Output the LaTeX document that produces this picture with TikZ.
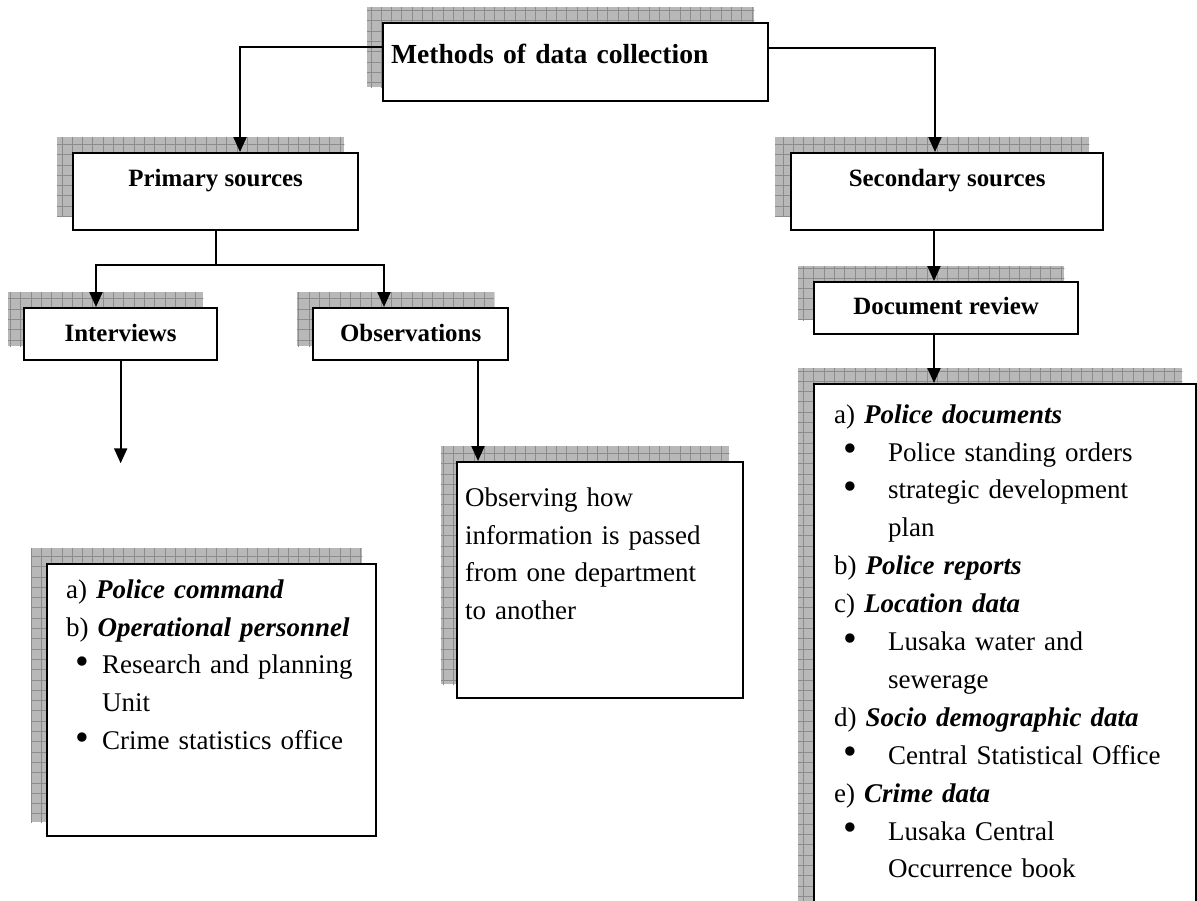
\documentclass[tikz,border=0pt]{standalone}
\usepackage{fontspec}
\usepackage{graphicx}
\setmainfont{Liberation Serif}
\usetikzlibrary{arrows.meta,backgrounds,calc}

% hatched drop shadow, offset up and to the left of a box
\newcommand\gridshadow[1]{%
  \begin{scope}[on background layer]
    \begin{scope}
      \clip ($(#1.north west)+(-15,-15)$) rectangle ($(#1.south east)+(-15,-15)$);
      \fill[shadowfill] ($(#1.north west)+(-15,-15)$) rectangle ($(#1.south east)+(-15,-15)$);
      \draw[shadowgrid] ($(#1.north west)+(-30,-30)$) grid ($(#1.south east)$);
    \end{scope}
  \end{scope}}

\tikzset{
  shadowfill/.style={fill=black!28},
  shadowgrid/.style={draw=black!45, line width=0.6pt, step=10.3pt},
  box/.style={draw, line width=2.3pt, fill=white, anchor=north west, inner ysep=0pt},
  head/.style={box, inner xsep=0pt, align=center, font=\fontsize{24.9}{30}\selectfont\bfseries},
  listbox/.style={box, align=left, font=\fontsize{27}{37.9}\selectfont},
  conn/.style={line width=2pt},
  arr/.style={conn, -{Triangle[length=15pt,width=13pt]}},
}
\newcommand\lbl[1]{\textbf{\textit{#1}}}
\newcommand\blt{\raisebox{-0.02em}{\scalebox{1.45}{•}}}

\begin{document}
\begin{tikzpicture}[x=1pt, y=-1pt]
\useasboundingbox (0,0) rectangle (1197,900);
\clip (0,0) rectangle (1197,900);

% boxes
\node[box, inner xsep=8pt, text width=369pt, align=left, text height=40pt, text depth=38pt,
      font=\fontsize{27.6}{32}\selectfont\bfseries] (title) at (382,22) {Methods of data collection};
\node[head, minimum width=285pt, text height=33pt, text depth=44pt] (primary) at (72,152) {Primary sources};
\node[head, minimum width=312pt, text height=33pt, text depth=44pt] (secondary) at (790,152) {Secondary sources};
\node[head, minimum width=193pt, text height=33pt, text depth=19pt] (interviews) at (23,307) {Interviews};
\node[head, minimum width=195pt, text height=33pt, text depth=19pt] (observations) at (312,307) {Observations};
\node[head, minimum width=264pt, text height=32pt, text depth=20pt] (docreview) at (813,281) {Document review};

\node[listbox, inner xsep=19pt, text width=291pt, text height=34pt, text depth=238pt] (interlist) at (46,563)
  {a) \lbl{Police command}\\
   \mbox{b) \lbl{Operational personnel}}\\
   \mbox{\hspace*{9pt}\makebox[27pt][l]{\blt}Research and planning}\\
   \hspace*{36pt}Unit\\
   \mbox{\hspace*{9pt}\makebox[27pt][l]{\blt}Crime statistics office}};

\node[listbox, inner xsep=8pt, text width=270pt, text height=44pt, text depth=192pt] (observing) at (456,461)
  {Observing how\\
   information is passed\\
   from one department\\
   to another};

\node[listbox, inner xsep=20pt, text width=342pt, text height=39pt, text depth=560pt] (doclist) at (813,383)
  {a) \lbl{Police documents}\\
   \mbox{\hspace*{9pt}\makebox[45pt][l]{\blt}Police standing orders}\\
   \mbox{\hspace*{9pt}\makebox[45pt][l]{\blt}strategic development}\\
   \hspace*{54pt}plan\\
   b) \lbl{Police reports}\\
   c) \lbl{Location data}\\
   \mbox{\hspace*{9pt}\makebox[45pt][l]{\blt}Lusaka water and}\\
   \hspace*{54pt}sewerage\\
   \mbox{d) \lbl{Socio demographic data}}\\
   \mbox{\hspace*{9pt}\makebox[45pt][l]{\blt}Central Statistical Office}\\
   e) \lbl{Crime data}\\
   \mbox{\hspace*{9pt}\makebox[45pt][l]{\blt}Lusaka Central}\\
   \hspace*{54pt}Occurrence book};

% shadows
\gridshadow{title}
\gridshadow{primary}
\gridshadow{secondary}
\gridshadow{interviews}
\gridshadow{observations}
\gridshadow{docreview}
\gridshadow{interlist}
\gridshadow{observing}
\gridshadow{doclist}

% connectors
\draw[arr] ($(title.north west)+(0,25)$) -| ($(primary.north west)+(168,0)$);
\draw[arr] ($(title.north east)+(0,26)$) -| ($(secondary.north west)+(145,0)$);

\coordinate (jn) at ($(primary.south west)+(144,34)$);
\draw[conn] ($(primary.south west)+(144,0)$) -- (jn);
\draw[arr] (jn) -| ($(interviews.north west)+(73,0)$);
\draw[arr] (jn) -| ($(observations.north west)+(72,0)$);

\coordinate (ifree) at ($(interviews.south)+(0,102)$);
\draw[arr] (interviews.south) -- (ifree);
\draw[arr] ($(observations.south west)+(166,0)$) -- ($(observing.north west)+(22,0)$);

\draw[arr] ($(secondary.south west)+(144,0)$) -- ($(docreview.north west)+(121,0)$);
\draw[arr] ($(docreview.south west)+(121,0)$) -- ($(doclist.north west)+(121,0)$);
\end{tikzpicture}
\end{document}
